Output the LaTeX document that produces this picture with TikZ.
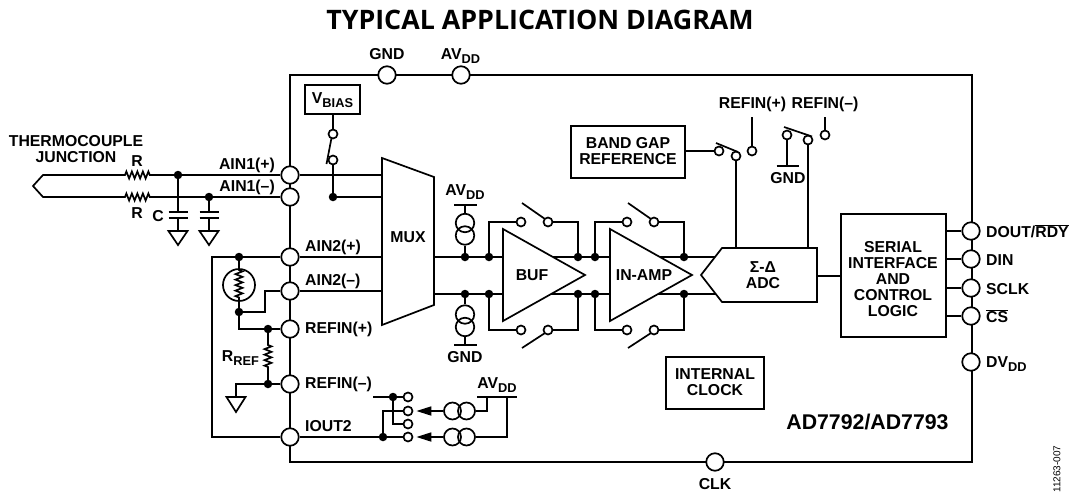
\documentclass[tikz,border=0pt]{standalone}
\usepackage{fontspec}
\setmainfont{Liberation Sans}
\newfontfamily\titlefont{Open Sans}
\usetikzlibrary{arrows.meta,decorations.pathmorphing}
\tikzset{
  x=1pt,y=-1pt,
  wire/.style={line width=1.7pt,line join=miter},
  frameln/.style={line width=2.2pt},
  pin/.style={circle,draw,fill=white,line width=1.7pt,minimum size=17.5pt,inner sep=0pt},
  sw/.style={circle,draw,fill=white,line width=1.7pt,minimum size=9pt,inner sep=0pt},
  junc/.style={circle,fill=black,minimum size=8.5pt,inner sep=0pt},
  lbl/.style={font=\bfseries\fontsize{15.8}{16}\selectfont,inner sep=0pt,align=center,text=black},
  blockbox/.style={draw,fill=white,line width=1.7pt,inner sep=0pt},
  cs/.style={circle,draw,line width=1.7pt,minimum size=18.5pt,inner sep=0pt},
  srcring/.style={circle,draw,line width=1.7pt,minimum size=17pt,inner sep=0pt},
  res/.style={decorate,decoration={zigzag,segment length=5.5pt,amplitude=3.5pt,pre length=1pt,post length=1pt},line width=1.7pt},
  gndtri/.style={draw,line width=1.7pt,fill=white},
  srcarrow/.style={wire,-{Triangle[length=15pt,width=9pt]},shorten >=3pt}
}
\newcommand{\ssub}[2]{#1\raisebox{-4.5pt}{\fontsize{12.8}{13}\selectfont #2}}
\begin{document}
\begin{tikzpicture}
\useasboundingbox (0,0) rectangle (1072,493);
% title
\node[font=\titlefont\bfseries\fontsize{26.8}{28}\selectfont,inner sep=0pt,text=black] (title) at (540,20) {TYPICAL APPLICATION DIAGRAM};
% frame
\coordinate (fTL) at (290,75); \coordinate (fBR) at (972,462);
\draw[frameln,line join=miter] (fTL) rectangle (fBR);

% pins
\foreach \n/\x/\y in {pG/387/75,pA/461/75,pClk/715/462,
  a1p/290/175,a1m/290/197,a2p/290/257,a2m/290/291,rp/290/329,rm/290/384,io/290/437,
  dout/971/231,din/971/259,sclk/971/288,cs/971/316,dv/971/362}
  \node[pin] (\n) at (\x,\y) {};

% thermocouple
\coordinate (t0) at (33,186); \coordinate (t1) at (43,175); \coordinate (t2) at (43,197);
\coordinate (r1a) at (124,175); \coordinate (r1b) at (152,175);
\coordinate (r2a) at (124,197); \coordinate (r2b) at (152,197);
\draw[wire] (r1a) -- (t1) -- (t0) -- (t2) -- (r2a);
\draw[res] (r1a) -- (r1b);
\draw[res] (r2a) -- (r2b);
\node[junc] (j1) at (178,175) {};
\node[junc] (j2) at (209,197) {};
\node[junc] (j3) at (333,197) {};
\draw[wire] (r1b) -- (j1) -- (a1p);
\draw[wire] (r2b) -- (j2) -- (a1m);
% caps
\foreach \j/\cx/\name in {j1/178/ca,j2/209/cb}{
  \coordinate (\name1) at (\cx,212); \coordinate (\name2) at (\cx,218); \coordinate (\name3) at (\cx,231);
  \draw[wire] (\j) -- (\name1);
  \draw[wire] (\name2) -- (\name3);
  \draw[wire] (\cx-9.5,212) -- (\cx+9.5,212);
  \draw[wire] (\cx-9.5,218) -- (\cx+9.5,218);
  \draw[gndtri] (\cx-9.5,231) -- (\cx+9.5,231) -- (\cx,245) -- cycle;
}
% Vbias
\node[blockbox,minimum width=55pt,minimum height=29pt,anchor=center] (vb) at (332.5,99.5) {};
\node[lbl] (vbt) at (332.5,100) {\ssub{V}{BIAS}};
\node[sw] (vs1) at (333,134) {};
\node[sw] (vs2) at (333,160) {};
\draw[wire] (vb.south -| vs1) -- (vs1);
\draw[wire] (vs2) -- (j3);
\draw[wire] (331.5,138) -- (326.5,164);

% mux
\draw[blockbox] (382,158) -- (434,177) -- (434,305) -- (382,325) -- cycle;
\node[lbl] (muxt) at (408,237) {MUX};
\draw[wire] (a1p) -- (382,175);
\draw[wire] (j3) -- (382,197);
\draw[wire] (a2p) -- (382,257);
\draw[wire] (a2m) -- (382,291);
% bias current sources at output
\draw[wire] (434,257) -- (503,257);
\draw[wire] (434,294) -- (503,294);
\node[junc] (d1) at (465,257) {};
\node[junc] (d2) at (465,294) {};
\node[junc] (d3) at (489,257) {};
\node[junc] (d4) at (489,294) {};
\coordinate (bar1) at (465,205);
\coordinate (bar2) at (465,345);
\draw[wire] (454,205) -- (477,205);
\draw[wire] (454,345) -- (477,345);
\node[cs] (c1) at (465,223) {};
\node[cs] (c2) at (465,235.5) {};
\node[cs] (c3) at (465,314.5) {};
\node[cs] (c4) at (465,327) {};
\draw[wire] (bar1) -- (c1);
\draw[wire] (c2) -- (d1);
\draw[wire] (d2) -- (c3);
\draw[wire] (c4) -- (bar2);
\node[lbl] (avdd1) at (465,192) {\ssub{AV}{DD}};
\node[lbl] (gnd1) at (465,357) {GND};

% main lines after buf
\node[junc] (d5) at (578,257) {};
\node[junc] (d6) at (578,294) {};
\node[junc] (d7) at (595,257) {};
\node[junc] (d8) at (595,294) {};
\node[junc] (d9) at (684,257) {};
\node[junc] (d10) at (684,294) {};
\draw[wire] (503,257) -- (d5) -- (d7) -- (d9) -- (716,257);
\draw[wire] (503,294) -- (d6) -- (d8) -- (d10) -- (716,294);
% feedback switches
\foreach \l/\r/\sa/\sb/\xa/\xb/\ya/\yb/\yc in {
 d3/d5/s1/s2/521/548/222/203/219,
 d7/d9/s3/s4/627/654/222/203/219,
 d4/d6/s5/s6/521/548/330/348/333,
 d8/d10/s7/s8/627/654/330/348/333}{
  \node[sw] (\sa) at (\xa,\ya) {};
  \node[sw] (\sb) at (\xb,\ya) {};
  \draw[wire] (\l) |- (\sa);
  \draw[wire] (\r) |- (\sb);
  \draw[wire] (\xa+1,\yb) -- (\xb-3,\yc);
}
% triangles
\draw[blockbox] (503,229) -- (585,275) -- (503,321) -- cycle;
\node[lbl] (buft) at (532,275) {BUF};
\draw[blockbox] (610,229) -- (692,275) -- (610,321) -- cycle;
\node[lbl] (ampt) at (644,275) {IN-AMP};
% ADC
\draw[blockbox] (701,275) -- (722,248) -- (817,248) -- (817,302) -- (722,302) -- cycle;
\node[lbl] (adct) at (763,275) {Σ-Δ\\ADC};
% band gap
\node[blockbox,minimum width=114pt,minimum height=52pt] (bg) at (628,152) {};
\node[lbl] (bgt) at (628,151) {BAND GAP\\REFERENCE};
\node[sw] (b1) at (719,151) {};
\node[sw] (b2) at (736,156) {};
\node[sw] (b3) at (752,151) {};
\node[sw] (g1) at (787,135) {};
\node[sw] (g2) at (808,140) {};
\node[sw] (g3) at (825,135) {};
\coordinate (rpe) at (752,117);
\coordinate (rme) at (825,117);
\draw[wire] (bg.east |- b1) -- (b1);
\draw[wire] (rpe) -- (b3);
\draw[wire] (rme) -- (g3);
\draw[wire] (716,143) -- (738,152);
\draw[wire] (784,127) -- (812,136.5);
\draw[wire] (b2) -- (736,248);
\draw[wire] (g2) -- (808,248);
\draw[wire] (g1) -- (787,166);
\draw[wire] (776.5,166) -- (798.5,166);
\node[lbl] (gnd2) at (788,178.5) {GND};
\node[lbl] (rpt) at (752.5,104) {REFIN(+)};
\node[lbl] (rmt) at (825,104) {REFIN(–)};
% serial
\node[blockbox,minimum width=105pt,minimum height=123pt] (ser) at (893.5,275.5) {};
\node[lbl] (sert) at (893,279) {SERIAL\\INTERFACE\\AND\\CONTROL\\LOGIC};
\draw[wire] (817,276) -- (ser.west |- 0,276);
\foreach \p in {dout,din,sclk,cs} \draw[wire] (ser.east |- \p) -- (\p);
% internal clock
\node[blockbox,minimum width=98pt,minimum height=52pt] (clkb) at (715,383) {};
\node[lbl] (clkt) at (715,382.5) {INTERNAL\\CLOCK};
\node[lbl,font=\bfseries\fontsize{21.3}{22}\selectfont] (part) at (867.5,422) {AD7792/AD7793};
% AIN2 network
\coordinate (lf1) at (212,257); \coordinate (lf2) at (212,437);
\node[junc] (e1) at (239,257) {};
\node[junc] (e2) at (239,312) {};
\node[junc] (e3) at (268,329) {};
\node[junc] (e4) at (268,384) {};
\draw[wire] (a2p) -- (lf1) -- (lf2) -- (io);
\node[circle,draw,line width=1.7pt,minimum size=32pt,inner sep=0pt] (rtd) at (239,285) {};
\coordinate (rt1) at (239,269); \coordinate (rt2) at (239,301);
\draw[wire] (e1) -- (rt1);
\draw[wire] (rt2) -- (e2);
\draw[res] (rt1) -- (rt2);
\draw[wire] (e2) -- (265,312) -- (265,291) -- (a2m);
\draw[wire] (e2) |- (e3) -- (rp);
\coordinate (rr1) at (268,344); \coordinate (rr2) at (268,370);
\draw[wire] (e3) -- (rr1);
\draw[res] (rr1) -- (rr2);
\draw[wire] (rr2) -- (e4);
\draw[wire] (rm) -- (e4) -- (236,384) -- (236,397);
\draw[gndtri] (226.5,397) -- (245.5,397) -- (236,412) -- cycle;
% current outputs
\node[sw] (o1) at (408,397) {};
\node[sw] (o2) at (408,411) {};
\node[sw] (o3) at (408,424) {};
\node[sw] (o4) at (408,437) {};
\node[junc] (k1) at (393,397) {};
\node[junc] (k2) at (383,437) {};
\coordinate (o0) at (373,397);
\draw[wire] (o0) -- (k1) -- (o1);
\draw[wire] (k1) |- (o3);
\draw[wire] (io) -- (k2) -- (o4);
\draw[wire] (k2) |- (o2);
\node[srcring] (i1) at (452.5,411) {};
\node[srcring] (i2) at (466.5,411) {};
\node[srcring] (i3) at (452.5,437) {};
\node[srcring] (i4) at (466.5,437) {};
\draw[srcarrow] (i1) -- (o2);
\draw[srcarrow] (i3) -- (o4);
\draw[wire] (477,397) -- (517,397);
\draw[wire] (i2) -| (487,397);
\draw[wire] (i4) -| (507,397);
\node[lbl] (avdd2) at (497,385) {\ssub{AV}{DD}};
% pin labels
\node[lbl,anchor=east] (l1) at (275,165) {AIN1(+)};
\node[lbl,anchor=east] (l2) at (275,187) {AIN1(–)};
\node[lbl,anchor=west] (l3) at (305,247) {AIN2(+)};
\node[lbl,anchor=west] (l4) at (305,281) {AIN2(–)};
\node[lbl,anchor=west] (l5) at (305,329) {REFIN(+)};
\node[lbl,anchor=west] (l6) at (305,384) {REFIN(–)};
\node[lbl,anchor=west] (l7) at (305,426) {IOUT2};
\node[lbl,anchor=west] (l8) at (986,231) {DOUT/$\overline{\mbox{RDY}}$};
\node[lbl,anchor=west] (l9) at (986,260) {DIN};
\node[lbl,anchor=west] (l10) at (986,289) {SCLK};
\node[lbl,anchor=west] (l11) at (986,316) {$\overline{\mbox{CS}}$};
\node[lbl,anchor=west] (l12) at (986,364) {\ssub{DV}{DD}};
\node[lbl] (l13) at (387,54) {GND};
\node[lbl] (l14) at (460.5,56) {\ssub{AV}{DD}};
\node[lbl] (l15) at (715,484) {CLK};
\node[lbl] (l16) at (137,161) {R};
\node[lbl] (l17) at (137,213) {R};
\node[lbl] (l18) at (158,216) {C};
\node[lbl] (l19) at (76,149.5) {THERMOCOUPLE\\JUNCTION};
\node[lbl] (l20) at (240.5,358) {\ssub{R}{REF}};
\node[rotate=90,inner sep=0pt,font=\fontsize{10}{10}\selectfont,text=black] (code) at (1057,469) {11263-007};
\end{tikzpicture}
\end{document}
